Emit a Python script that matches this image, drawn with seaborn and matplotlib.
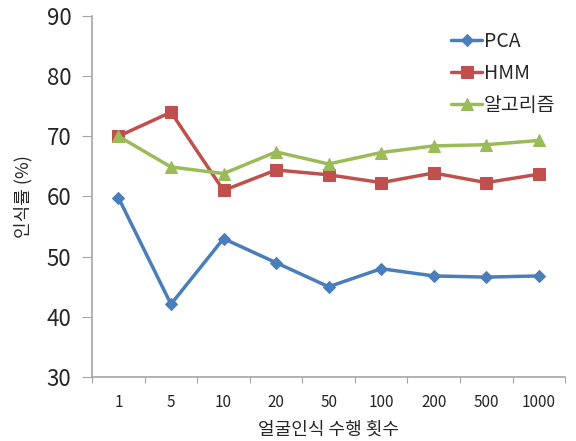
import numpy as np
import pandas as pd
import seaborn as sns
import matplotlib.pyplot as plt
from matplotlib.ticker import FixedLocator

sns.set_style('white')
plt.rcParams['font.family'] = ['Noto Sans CJK KR', 'DejaVu Sans']

counts = ['1', '5', '10', '20', '50', '100', '200', '500', '1000']
pca = [59.8, 42.1, 53.0, 49.0, 45.0, 48.0, 46.8, 46.6, 46.8]
hmm = [70.0, 74.0, 61.0, 64.4, 63.6, 62.3, 63.9, 62.3, 63.7]
algo = [70.0, 64.9, 63.8, 67.4, 65.4, 67.3, 68.4, 68.6, 69.3]

names = ['PCA', 'HMM', '알고리즘']
colors = ['#4A7EBB', '#C0504D', '#9BBB59']
markers = ['D', 's', '^']
msizes = [6, 8, 8]

pos = np.arange(len(counts))
df = pd.DataFrame({'pos': np.tile(pos, 3),
                   'rate': pca + hmm + algo,
                   'method': np.repeat(names, len(counts))})

fig = plt.figure(figsize=(5.76, 4.41), dpi=100)
ax = fig.add_axes([0.16, 0.145, 0.821, 0.819])

for name, c, m, ms in zip(names, colors, markers, msizes):
    sns.lineplot(data=df[df.method == name], x='pos', y='rate', ax=ax,
                 color=c, marker=m, markersize=ms, markeredgecolor=c,
                 linewidth=2.5, label=name)

ax.set_xlim(-0.5, len(counts) - 0.5)
ax.set_ylim(30, 90)
ax.set_yticks(range(30, 91, 10))
ax.tick_params(axis='y', labelsize=16, length=7, color='#A6A6A6', left=True,
               direction='out', pad=8)

# x ticks at category boundaries, labels at centres
ax.xaxis.set_major_locator(FixedLocator(np.arange(-0.5, len(counts), 1)))
ax.xaxis.set_minor_locator(FixedLocator(pos))
ax.set_xticklabels([''] * (len(counts) + 1))
ax.set_xticklabels(counts, minor=True)
ax.tick_params(axis='x', which='major', length=4, color='#A6A6A6', bottom=True, direction='out')
ax.tick_params(axis='x', which='minor', length=0, labelsize=11, pad=12)

for s in ['top', 'right']:
    ax.spines[s].set_visible(False)
for s in ['left', 'bottom']:
    ax.spines[s].set_color('#A6A6A6')
    ax.spines[s].set_linewidth(1.2)

ax.set_xlabel('얼굴인식 수행 횟수', fontsize=13, labelpad=7)
ax.set_ylabel('인식률 (%)', fontsize=13, labelpad=10)

ax.legend(loc='upper right', bbox_to_anchor=(1.017, 1.006), frameon=False,
          fontsize=14, handlelength=1.6, handletextpad=0.1, labelspacing=0.55)

fig.savefig('out.png', dpi=100)
